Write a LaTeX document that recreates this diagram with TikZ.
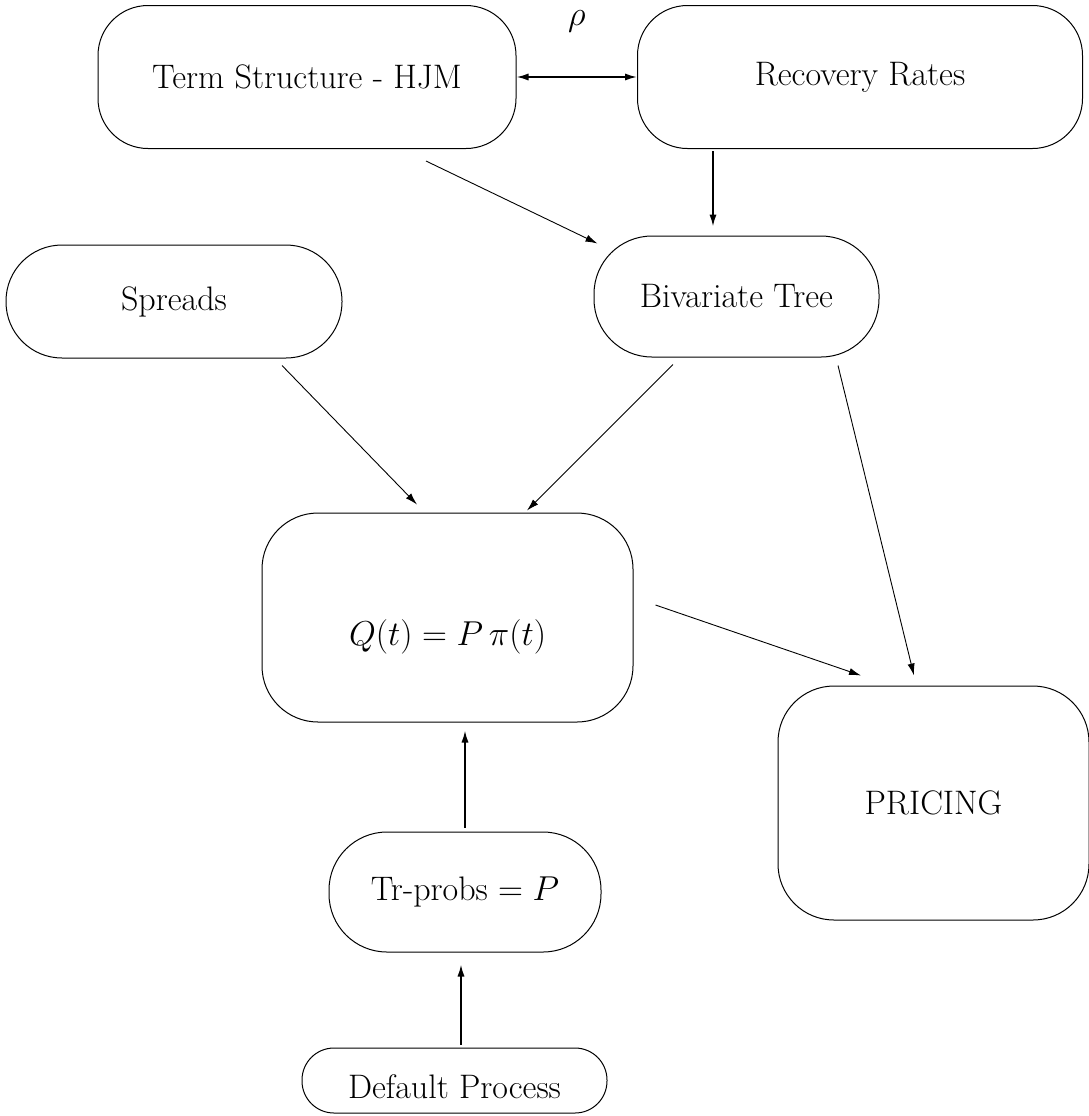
\documentclass[tikz,border=0pt]{standalone}
\usepackage{amssymb}
\usepackage{tikz}
\usetikzlibrary{arrows.meta,calc,positioning}
\tikzset{%
  box/.style  = {draw, rectangle, line width = 0.5pt, inner sep = 0pt}, % Rounded box
  input/.style  = {coordinate}, % Input
  output/.style = {coordinate}  % Output
}

\begin{document}
\begin{tikzpicture}[
            x=0.5pt, y=-0.5pt,
            >={Latex[length=6pt,width=3.6pt]},
            % Define the styles for connections
            connection/.style={->, line width=0.45pt},
            heavy/.style={->, line width=0.9pt},
            font=\fontsize{17}{20}\selectfont,
            ]

            \useasboundingbox (0,0) rectangle (1089,1116);

            % Upper row
            \node[box, rounded corners=25pt, minimum width=209pt, minimum height=71.5pt]
                (HJM) at (307,77) {Term Structure - HJM};
            \node[box, rounded corners=25pt, minimum width=222.5pt, minimum height=71.5pt]
                (Rec) at (860,77) {Recovery Rates};

            % Middle row
            \node[box, rounded corners=28pt, minimum width=168pt, minimum height=56.5pt]
                (Spr) at (174,301.5) {Spreads};
            \node[box, rounded corners=29pt, minimum width=142.5pt, minimum height=60.5pt]
                (Biv) at (736.5,296.5) {Bivariate Tree};

            % Q box and pricing
            \node[box, rounded corners=28pt, minimum width=185.5pt, minimum height=104.5pt,
                text height=32.5pt, text depth=4.2pt]
                (Q) at (447.5,617.5) {$Q(t) = P\,\pi(t)$};
            \node[box, rounded corners=28pt, minimum width=155.5pt, minimum height=117pt]
                (Pr) at (933.5,803) {PRICING};

            % Lower part
            \node[box, rounded corners=29pt, minimum width=136pt, minimum height=60pt]
                (Tr) at (465,892) {Tr-probs $= P$};
            \node[box, rounded corners=16pt, minimum width=152.5pt, minimum height=32.5pt,
                text height=21pt, text depth=3.3pt]
                (Def) at (454.5,1080.5) {Default Process};

            % Correlation between the two inputs
            \draw[heavy, <->] (HJM) -- (Rec) node[midway, yshift=28pt] {$\rho$};

            % Inputs to the tree
            \draw[connection] ($(HJM.south)+(119,12)$) -- ($(Biv.north west)+(4,8)$);
            \draw[heavy] ($(Rec.south)+(-147,2)$) -- ($(Biv.north)+(-23.5,-9)$);

            % Into Q
            \draw[connection] ($(Spr.south)+(108,7)$) -- ($(Q.north)+(-30.5,-8)$);
            \draw[connection] ($(Biv.south)+(-63.5,7)$) -- ($(Q.north)+(79.5,-2)$);
            \draw[heavy] ($(Tr.north)+(0,-4)$) -- ($(Q.south)+(17.5,8)$);
            \draw[heavy] ($(Def.north)+(6.5,-3)$) -- ($(Tr.south)+(-4,12)$);

            % Into pricing
            \draw[connection] ($(Biv.south)+(101.5,8)$) -- ($(Pr.north)+(-19.5,-10)$);
            \draw[connection] ($(Q.east)+(22,-12.5)$) -- ($(Pr.north)+(-72.5,-10)$);

        \end{tikzpicture}
\end{document}
